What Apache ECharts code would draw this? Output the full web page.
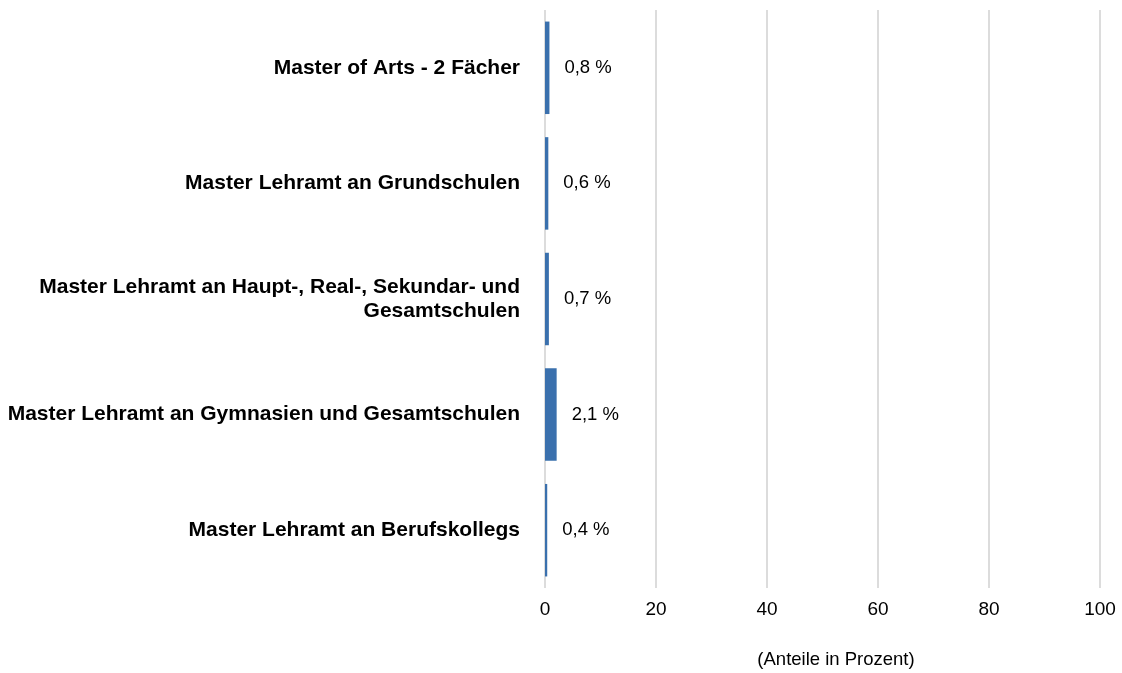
<!DOCTYPE html>
<html>
<head>
<meta charset="utf-8">
<script src="https://cdn.jsdelivr.net/npm/echarts@6/dist/echarts.min.js"></script>
<style>
  html, body { margin: 0; padding: 0; background: #fff; }
  #chart { width: 1122px; height: 673px; }
</style>
</head>
<body>
<div id="chart"></div>
<script>
  // Kategorien von oben nach unten
  const categories = [
    "Master of Arts - 2 Fächer",
    "Master Lehramt an Grundschulen",
    "Master Lehramt an Haupt-, Real-, Sekundar- und\nGesamtschulen",
    "Master Lehramt an Gymnasien und Gesamtschulen",
    "Master Lehramt an Berufskollegs"
  ];
  const values = [0.8, 0.6, 0.7, 2.1, 0.4];
  const xTicks = [0, 20, 40, 60, 80, 100];

  const chart = echarts.init(document.getElementById("chart"));
  const font = "Liberation Sans, Arial, sans-serif";

  chart.setOption({
    animation: false,
    grid: { left: 545, right: 22, top: 10, bottom: 85 },
    xAxis: {
      type: "value",
      min: xTicks[0],
      max: xTicks[xTicks.length - 1],
      interval: 20,
      axisLine: { show: false },
      axisTick: { show: false },
      axisLabel: { color: "#000", fontSize: 19, fontFamily: font, margin: 12 },
      splitLine: { show: true, lineStyle: { color: "#dcdcdc", width: 2 } }
    },
    yAxis: {
      type: "category",
      inverse: true,
      data: categories,
      axisLine: { show: false },
      axisTick: { show: false },
      axisLabel: {
        color: "#000", fontSize: 21, fontWeight: "bold", fontFamily: font,
        margin: 25, align: "right", lineHeight: 24
      }
    },
    graphic: [{
      type: "text",
      x: 836, y: 660,
      style: {
        text: "(Anteile in Prozent)", fill: "#000", fontSize: 18.5, fontFamily: font,
        align: "center", verticalAlign: "middle"
      }
    }],
    series: [{
      type: "bar",
      data: values,
      barCategoryGap: "20%",
      itemStyle: { color: "#3a70ad" },
      label: {
        show: true,
        position: "right",
        distance: 15,
        color: "#000",
        fontSize: 18.5,
        fontFamily: font,
        formatter: p => String(p.value).replace(".", ",") + " %"
      }
    }]
  });

  window.addEventListener("resize", () => chart.resize());
</script>
</body>
</html>
